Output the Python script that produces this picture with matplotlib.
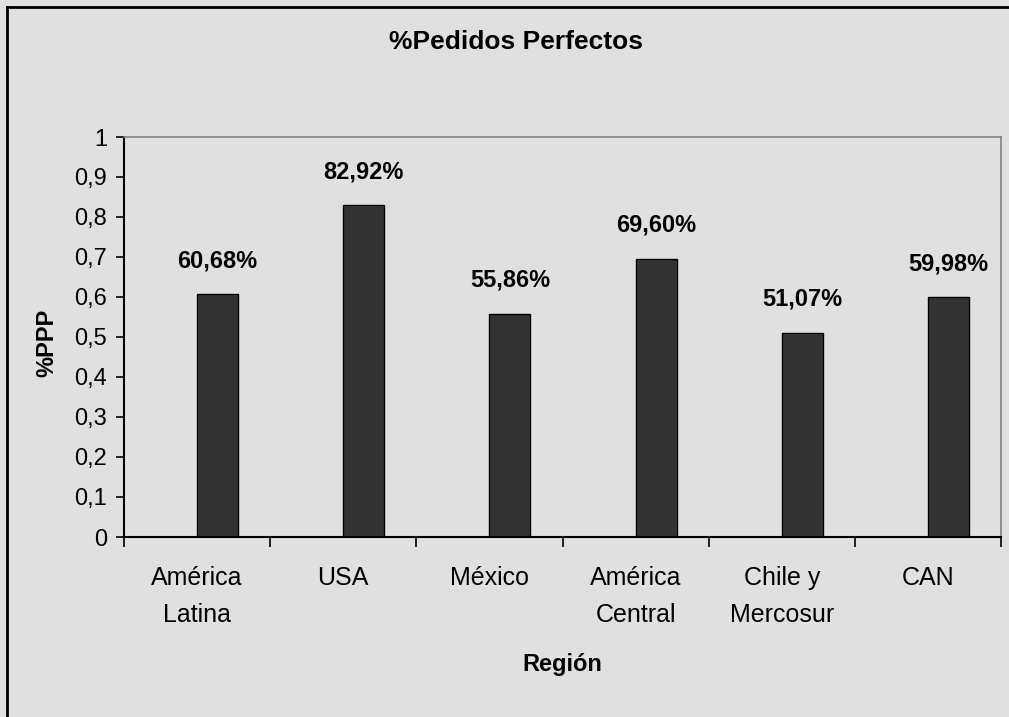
import numpy as np
import matplotlib
matplotlib.use('Agg')
from matplotlib import pyplot as plt
from matplotlib.lines import Line2D

regiones = ['América\nLatina', 'USA', 'México', 'América\nCentral', 'Chile y\nMercosur', 'CAN']
ppp = [0.6068, 0.8292, 0.5586, 0.6960, 0.5107, 0.5998]
yticks = [0, 0.1, 0.2, 0.3, 0.4, 0.5, 0.6, 0.7, 0.8, 0.9, 1]
ytick_labels = ['0', '0,1', '0,2', '0,3', '0,4', '0,5', '0,6', '0,7', '0,8', '0,9', '1']

plt.rcParams['font.family'] = ['Liberation Sans', 'DejaVu Sans']

fondo = '#e0e0e0'
fig = plt.figure(figsize=(10.09, 7.17), dpi=100, facecolor=fondo)
ax = fig.add_axes([124/1009, 1 - 537/717, (1001 - 124)/1009, 400/717])
ax.set_facecolor(fondo)

x = np.arange(len(regiones))
# barras empiezan en el centro de la categoria (como en el excel original)
barras = ax.bar(x, ppp, width=0.28, align='edge', color='#333333',
                edgecolor='black', linewidth=1)

for b, v in zip(barras, ppp):
    txt = ('%.2f%%' % (v * 100)).replace('.', ',')
    ax.annotate(txt, (b.get_x() + b.get_width()/2, v), xytext=(0, 24),
                textcoords='offset points', ha='center', va='center',
                fontsize=17, fontweight='bold')

ax.set_xlim(-0.5, len(regiones) - 0.5)
ax.set_ylim(0, 1)
ax.set_yticks(yticks)
ax.set_yticklabels(ytick_labels, fontsize=17)
ax.tick_params(axis='y', direction='out', length=6, width=1.2, pad=6)

# ticks entre categorias, etiquetas en el centro
ax.set_xticks(np.arange(-0.5, len(regiones), 1))
ax.set_xticklabels([])
ax.set_xticks(x, minor=True)
ax.set_xticklabels(regiones, minor=True, fontsize=18, linespacing=1.65)
ax.tick_params(axis='x', which='major', direction='out', length=7, width=1.2)
ax.tick_params(axis='x', which='minor', length=0, pad=21)

for s in ['left', 'bottom']:
    ax.spines[s].set_color('black')
    ax.spines[s].set_linewidth(1.5)
for s in ['top', 'right']:
    ax.spines[s].set_color('#808080')
    ax.spines[s].set_linewidth(1.2)

ax.set_ylabel('%PPP', fontsize=17, fontweight='bold', va='center')
ax.yaxis.set_label_coords(-0.088, 0.485)
ax.set_xlabel('Región', fontsize=17, fontweight='bold', va='center')
ax.xaxis.set_label_coords(0.5, -0.32)

fig.text(516/1009, 1 - 42/717, '%Pedidos Perfectos', ha='center', va='center',
         fontsize=19, fontweight='bold')

# borde del area del grafico (solo se ve arriba y a la izquierda)
fig.add_artist(Line2D([7/1009, 7/1009], [0, 1 - 7/717], color='black', lw=2))
fig.add_artist(Line2D([7/1009, 1], [1 - 7/717, 1 - 7/717], color='black', lw=2))

plt.savefig('out.png', dpi=100, facecolor=fondo)
